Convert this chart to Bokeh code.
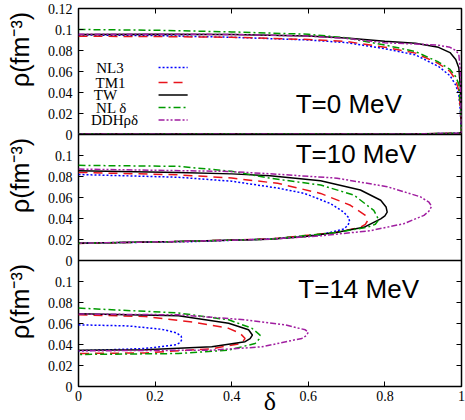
from math import pi
from bokeh.plotting import figure
from bokeh.models import (Range1d, LinearAxis, FixedTicker, Label, Arrow, Span,
                          CustomJSTickFormatter)
from bokeh.embed import file_html
from bokeh.resources import INLINE

# ---------------- data ----------------
models = ["NL3", "TM1", "TW", "NL δ", "DDHρδ"]
panel_titles = ["T=0 MeV", "T=10 MeV", "T=14 MeV"]
rho_tick_values = [0, 0.02, 0.04, 0.06, 0.08, 0.1, 0.12]
rho_tick_labels = ["0", "0.02", "0.04", "0.06", "0.08", "0.1", "0.12"]
delta_tick_values = [0, 0.2, 0.4, 0.6, 0.8, 1.0]
delta_tick_labels = ["0", "0.2", "0.4", "0.6", "0.8", "1"]

# T = 0 MeV (upper branch then low-density branch)
t0_delta = [0, 0.2, 0.4, 0.6, 0.7, 0.8, 0.88, 0.94, 0.97, 0.985, 0.993, 0.997, 0.999, 1.0, 0.99, 0.9, 0.5, 0]
t0_nl3_rho = [0.0948, 0.0942, 0.0926, 0.0900, 0.0875, 0.0817, 0.0758, 0.0648, 0.056, 0.047, 0.038, 0.022, 0.006, 0.002, 0.0012, 0.0006, 0.0005, 0.0005]
t0_tm1_rho = [0.0936, 0.0933, 0.0926, 0.0905, 0.0885, 0.0832, 0.0775, 0.0676, 0.060, 0.052, 0.0416, 0.025, 0.007, 0.002, 0.0012, 0.0006, 0.0005, 0.0005]
t0_tw_rho = [0.0953, 0.0955, 0.0953, 0.0938, 0.0918, 0.0888, 0.0868, 0.083, 0.078, 0.0715, 0.0636, 0.0447, 0.015, 0.002, 0.0012, 0.0006, 0.0005, 0.0005]
t0_nld_rho = [0.100, 0.0993, 0.0977, 0.0955, 0.092, 0.0852, 0.079, 0.069, 0.062, 0.055, 0.048, 0.029, 0.007, 0.002, 0.0012, 0.0006, 0.0005, 0.0005]
t0_ddh_rho = [0.0955, 0.0955, 0.0953, 0.0938, 0.0915, 0.0873, 0.0862, 0.085, 0.083, 0.080, 0.0762, 0.0605, 0.02, 0.002, 0.0012, 0.0006, 0.0005, 0.0005]

# T = 10 MeV
t10_nl3_delta = [0, 0.26, 0.4, 0.52, 0.59, 0.658, 0.693, 0.705, 0.708, 0.703, 0.693, 0.632, 0.5, 0.3, 0]
t10_nl3_rho = [0.0819, 0.0793, 0.0755, 0.069, 0.0639, 0.0542, 0.046, 0.041, 0.037, 0.0335, 0.030, 0.0245, 0.0205, 0.018, 0.0165]
t10_tm1_delta = [0, 0.26, 0.4, 0.52, 0.632, 0.71, 0.749, 0.755, 0.749, 0.736, 0.675, 0.5, 0.25, 0]
t10_tm1_rho = [0.0839, 0.0816, 0.0785, 0.0735, 0.0639, 0.0526, 0.043, 0.038, 0.0345, 0.0316, 0.0268, 0.0205, 0.018, 0.0163]
t10_tw_delta = [0, 0.26, 0.4, 0.5, 0.632, 0.736, 0.789, 0.803, 0.806, 0.8, 0.789, 0.745, 0.675, 0.588, 0.5, 0.25, 0]
t10_tw_rho = [0.0855, 0.0839, 0.0825, 0.0806, 0.076, 0.0671, 0.0574, 0.051, 0.046, 0.0425, 0.0397, 0.0316, 0.0268, 0.0226, 0.0203, 0.018, 0.0165]
t10_nld_delta = [0, 0.26, 0.4, 0.5, 0.632, 0.719, 0.771, 0.784, 0.775, 0.754, 0.675, 0.5, 0.25, 0]
t10_nld_rho = [0.0906, 0.0897, 0.085, 0.0784, 0.0719, 0.0623, 0.0477, 0.0387, 0.0345, 0.0316, 0.0268, 0.0203, 0.018, 0.0163]
t10_ddh_delta = [0, 0.39, 0.5, 0.675, 0.806, 0.893, 0.915, 0.922, 0.915, 0.902, 0.849, 0.762, 0.632, 0.5, 0.25, 0]
t10_ddh_rho = [0.0871, 0.0848, 0.0826, 0.0784, 0.0703, 0.0606, 0.0555, 0.0516, 0.047, 0.043, 0.035, 0.0284, 0.0235, 0.0203, 0.018, 0.0165]

# T = 14 MeV
t14_nl3_delta = [0, 0.13, 0.2175, 0.255, 0.268, 0.27, 0.266, 0.255, 0.174, 0]
t14_nl3_rho = [0.0587, 0.0577, 0.0545, 0.0512, 0.048, 0.045, 0.042, 0.0398, 0.0362, 0.034]
t14_tm1_delta = [0, 0.174, 0.305, 0.392, 0.422, 0.435, 0.426, 0.348, 0.174, 0]
t14_tm1_rho = [0.0683, 0.0667, 0.061, 0.0554, 0.0506, 0.0458, 0.041, 0.036, 0.032, 0.0314]
t14_tw_delta = [0, 0.261, 0.392, 0.444, 0.454, 0.448, 0.435, 0.348, 0.174, 0]
t14_tw_rho = [0.0692, 0.0673, 0.0603, 0.054, 0.049, 0.0455, 0.0427, 0.0378, 0.035, 0.0346]
t14_nld_delta = [0, 0.261, 0.392, 0.4526, 0.474, 0.471, 0.461, 0.392, 0.261, 0]
t14_nld_rho = [0.0747, 0.070, 0.0635, 0.0555, 0.049, 0.045, 0.041, 0.0346, 0.0314, 0.0305]
t14_ddh_delta = [0, 0.261, 0.435, 0.54, 0.592, 0.6, 0.595, 0.583, 0.479, 0.348, 0]
t14_ddh_rho = [0.069, 0.0683, 0.0635, 0.0587, 0.054, 0.0516, 0.0485, 0.0458, 0.0378, 0.0346, 0.034]

# ---------------- styles ----------------
colors = ["#0000ff", "#e8141c", "#000000", "#009a00", "#a01ea0"]
dashes = ["2 2", "9 6", "solid", "7 3 2 3", "6 2 2 2 2 2"]
LW = 1.5
SERIF = "Liberation Serif"
SANS = "Liberation Sans"
BORDER_TOP, BORDER_BOTTOM = 8, 34
ABS = {"position": "absolute", "top": "0px", "left": "0px"}

panels = [
    ("T0", [(t0_delta, t0_nl3_rho), (t0_delta, t0_tm1_rho), (t0_delta, t0_tw_rho),
            (t0_delta, t0_nld_rho), (t0_delta, t0_ddh_rho)]),
    ("T10", [(t10_nl3_delta, t10_nl3_rho), (t10_tm1_delta, t10_tm1_rho), (t10_tw_delta, t10_tw_rho),
             (t10_nld_delta, t10_nld_rho), (t10_ddh_delta, t10_ddh_rho)]),
    ("default", [(t14_nl3_delta, t14_nl3_rho), (t14_tm1_delta, t14_tm1_rho), (t14_tw_delta, t14_tw_rho),
                 (t14_nld_delta, t14_nld_rho), (t14_ddh_delta, t14_ddh_rho)]),
]
PANEL_SPAN = 0.12
offsets = {"T0": 2 * PANEL_SPAN, "T10": PANEL_SPAN, "default": 0.0}


def stacked_ranges():
    return {"T0": Range1d(-2 * PANEL_SPAN, PANEL_SPAN),
            "T10": Range1d(-PANEL_SPAN, 2 * PANEL_SPAN)}


p = figure(width=465, height=420,
           x_range=Range1d(0, 1), y_range=Range1d(0, 3 * PANEL_SPAN),
           output_backend="svg", toolbar_location=None,
           min_border_left=78, min_border_right=4,
           min_border_top=BORDER_TOP, min_border_bottom=BORDER_BOTTOM,
           styles=dict(ABS))
p.extra_y_ranges = stacked_ranges()
p.grid.visible = False
p.outline_line_color = "black"
p.outline_line_width = 1.5
p.background_fill_color = "white"
p.border_fill_color = "white"

# panel separators
for loc in (PANEL_SPAN, 2 * PANEL_SPAN):
    p.add_layout(Span(location=loc, dimension="width", line_color="black", line_width=1.5))

# curves
for rng, curves in panels:
    for (dx, ry), c, d in zip(curves, colors, dashes):
        p.line(dx, ry, y_range_name=rng, line_color=c, line_dash=d, line_width=LW)

# y ticks for three stacked panels
ytick_pos, ytick_lab = [], []
for rng in ("default", "T10", "T0"):
    for v, lab in zip(rho_tick_values, rho_tick_labels):
        if rng != "T0" and v >= PANEL_SPAN:
            continue
        pos = round(offsets[rng] + v, 6)
        ytick_pos.append(pos)
        ytick_lab.append(lab)
yticker = FixedTicker(ticks=ytick_pos, minor_ticks=[])
xticker = FixedTicker(ticks=delta_tick_values, minor_ticks=[])


def style_axis(ax):
    ax.axis_line_color = None
    ax.major_tick_in = 5
    ax.major_tick_out = 0
    ax.minor_tick_line_color = None
    ax.major_tick_line_color = "black"
    ax.major_label_text_font = SERIF
    ax.major_label_text_font_size = "14px"
    ax.major_label_text_color = "black"


yax = p.yaxis[0]
yax.ticker = yticker
yax.major_label_overrides = dict(zip(ytick_pos, ytick_lab))
style_axis(yax)
yax.major_label_standoff = 6

xax = p.xaxis[0]
xax.ticker = xticker
xax.major_label_overrides = dict(zip(delta_tick_values, delta_tick_labels))
style_axis(xax)
xax.major_label_standoff = 4
xax.axis_label = "δ"
xax.axis_label_text_font = SERIF
xax.axis_label_text_font_size = "26px"
xax.axis_label_text_font_style = "normal"
xax.axis_label_text_color = "black"
xax.axis_label_standoff = -17

blank = CustomJSTickFormatter(code="return ''")
rax = LinearAxis(ticker=yticker, formatter=blank, major_label_standoff=0)
style_axis(rax)
p.add_layout(rax, "right")
tax = LinearAxis(ticker=xticker, formatter=blank, major_label_standoff=0)
style_axis(tax)
p.add_layout(tax, "above")

# panel titles
title_y = {"T0": 0.0295, "T10": 0.101, "default": 0.093}
title_x = {"T0": 0.567, "T10": 0.567, "default": 0.574}
for (rng, _), t in zip(panels, panel_titles):
    p.add_layout(Label(x=title_x[rng], y=title_y[rng], y_range_name=rng, text=t,
                       text_font=SANS, text_font_size="26px",
                       text_align="left", text_baseline="middle", text_color="black"))

# legend (text left, sample right), in the top panel
leg_text_x = [0.0822, 0.0836, 0.0705, 0.0862, 0.094]
leg_y = [0.0638, 0.0495, 0.0376, 0.0257, 0.0138]
for name, c, d, tx, ly in zip(models, colors, dashes, leg_text_x, leg_y):
    p.add_layout(Label(x=tx, y=ly, y_range_name="T0", text=name, text_font=SERIF,
                       text_font_size="15px", text_align="center", text_baseline="middle",
                       text_color="black"))
    p.add_layout(Arrow(end=None, x_start=0.209, x_end=0.285, y_start=ly, y_end=ly,
                       y_range_name="T0", line_color=c, line_dash=d, line_width=LW))

# transparent strip on the left carrying the three rotated y-axis titles
q = figure(width=40, height=420, x_range=Range1d(0, 1), y_range=Range1d(0, 3 * PANEL_SPAN),
           output_backend="svg", toolbar_location=None,
           x_axis_type=None, y_axis_type=None,
           min_border_left=0, min_border_right=0,
           min_border_top=BORDER_TOP, min_border_bottom=BORDER_BOTTOM,
           styles=dict(ABS))
q.extra_y_ranges = stacked_ranges()
q.grid.visible = False
q.outline_line_color = None
q.background_fill_color = None
q.border_fill_color = None
for rng, _ in panels:
    q.add_layout(Label(x=0.49, y=0.081, y_range_name=rng, text="ρ(fm⁻³)", angle=pi / 2,
                       text_font=SANS, text_font_size="25px",
                       text_align="center", text_baseline="middle", text_color="black"))

open("out.html", "w").write(file_html([p, q], INLINE))
